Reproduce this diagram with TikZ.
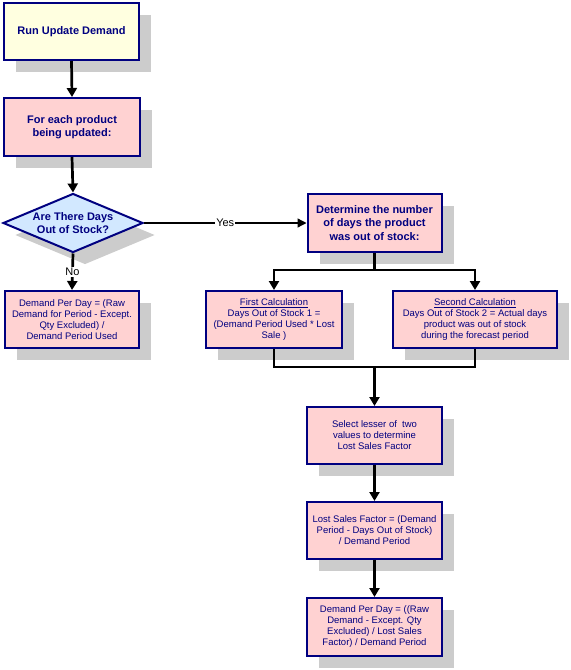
\documentclass[tikz,border=0pt]{standalone}
\usepackage{fontspec}
\setmainfont{Liberation Sans}
\usetikzlibrary{shapes.geometric,arrows.meta,shadows}
\definecolor{navy}{HTML}{000080}
\definecolor{pinkfill}{HTML}{FFD2D2}
\definecolor{yellowfill}{HTML}{FFFFE0}
\definecolor{bluefill}{HTML}{D2E8FF}
\definecolor{shadowgray}{HTML}{CCCCCC}
\newcommand{\bfnt}{\fontsize{11bp}{13.3bp}\selectfont\bfseries}
\newcommand{\rgfnt}{\fontsize{9.5bp}{11bp}\selectfont}
\newcommand{\lblfnt}{\fontsize{11bp}{13bp}\selectfont}
\begin{document}
\begin{tikzpicture}[x=1bp,y=-1bp,
  box/.style={rectangle, draw=navy, line width=2bp, text=navy, align=center,
    inner sep=1bp, fill=pinkfill,
    copy shadow={shadow xshift=12bp, shadow yshift=-12bp, fill=shadowgray, draw=none}},
  wbox/.style={box, minimum width=135bp, minimum height=57bp},
  conn/.style={line width=2.7bp, line join=miter, draw=black},
  arr/.style={conn, -{Triangle[width=10bp,length=9bp]}},
  thin arr/.style={line width=1.3bp, draw=black, -{Triangle[width=9bp,length=9bp]}},
  lbl/.style={fill=white, inner sep=1bp, font=\lblfnt, text=black}
]
\useasboundingbox (0,0) rectangle (571,670);

\node[wbox, fill=yellowfill, font=\bfnt] (start) at (71.5,31.5) {Run Update Demand};
\node[wbox, minimum width=136bp, minimum height=58bp, font=\bfnt] (each) at (72,127) {For each product\\being updated:};
\node[diamond, draw=navy, line width=2bp, fill=bluefill, text=navy, align=center,
  inner sep=0pt, shape aspect=2.37, minimum width=140bp, minimum height=59bp, font=\bfnt,
  copy shadow={shadow xshift=12bp, shadow yshift=-12bp, fill=shadowgray, draw=none}]
  (dec) at (73,223) {Are There Days\\Out of Stock?};
\node[wbox, minimum width=134bp, font=\rgfnt] (nobox) at (72,319.5)
  {Demand Per Day = (Raw\\Demand for Period - Except.\\Qty Excluded) /\\Demand Period Used};
\node[wbox, minimum width=134bp, minimum height=58bp, font=\bfnt] (det) at (374.5,223)
  {Determine the number\\of days the product\\was out of stock:};
\node[wbox, minimum width=136bp, font=\rgfnt] (first) at (274,319.5)
  {\underline{First Calculation}\\Days Out of Stock 1 =\\(Demand Period Used * Lost\\Sale )};
\node[wbox, minimum width=164bp, font=\rgfnt] (second) at (475,319.5)
  {\underline{Second Calculation}\\Days Out of Stock 2 = Actual days\\product was out of stock\\during the forecast period};
\node[wbox, font=\rgfnt] (select) at (374.5,435.5)
  {Select lesser of\ \ two\\values to determine\\Lost Sales Factor};
\node[wbox, font=\rgfnt] (lost) at (374.5,530.5)
  {Lost Sales Factor = (Demand\\Period - Days Out of Stock)\\/ Demand Period};
\node[wbox, minimum height=58bp, font=\rgfnt] (dpd) at (374.5,627)
  {Demand Per Day = ((Raw\\Demand - Except. Qty\\Excluded)\ / Lost Sales\\Factor) / Demand Period};

\coordinate (j1) at (374.5,270);
\coordinate (j2) at (374.5,367);

\draw[arr] (start.south) -- (each.north);
\draw[arr] (each.south) -- (dec.north);
\draw[arr] (dec.south) -- node[lbl]{No} (nobox.north);
\draw[thin arr] (dec.east) -- node[lbl]{Yes} (det.west);
\draw[conn] (det.south) -- (j1);
\draw[arr] (j1) -| (first.north);
\draw[arr] (j1) -| (second.north);
\draw[conn] (first.south) |- (j2);
\draw[conn] (second.south) |- (j2);
\draw[arr] (j2) -- (select.north);
\draw[arr] (select.south) -- (lost.north);
\draw[arr] (lost.south) -- (dpd.north);
\end{tikzpicture}
\end{document}
